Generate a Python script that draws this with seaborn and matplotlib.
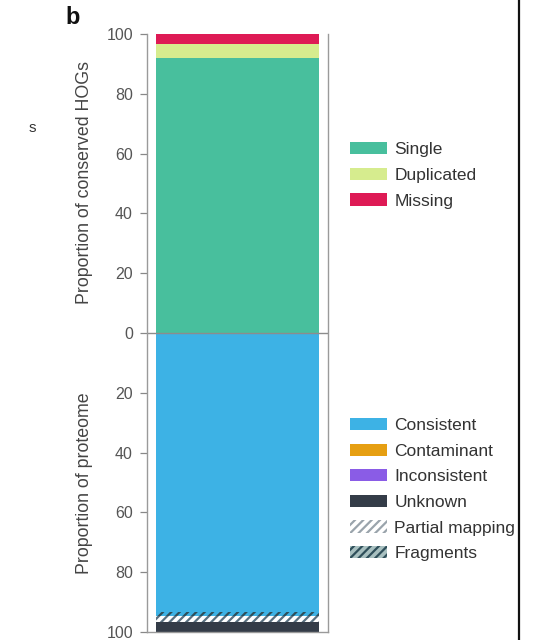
import matplotlib
matplotlib.use("Agg")
import matplotlib.pyplot as plt
import matplotlib.patches as mpatches
from matplotlib.lines import Line2D
import seaborn as sns

# Conserved HOG completeness (percent, stacked upward from 0)
hog_categories = ["Single", "Duplicated", "Missing"]
hog_values = [91.9, 4.8, 3.3]
hog_colors = ["#48BF9D", "#D6EC8E", "#DE1A55"]

# Proteome consistency (percent, stacked downward from 0)
prot_categories = ["Consistent", "Contaminant", "Inconsistent", "Fragments", "Partial mapping", "Unknown"]
prot_values = [93.2, 0.1, 0.1, 1.3, 2.0, 3.3]
prot_colors = ["#3DB2E5", "#E69F12", "#8A5CE6", "#3DB2E5", "#FFFFFF", "#343C48"]
prot_hatches = [None, None, None, "////", "////", None]

tick_values = [0, 20, 40, 60, 80, 100]

sns.set_theme(style="white")
plt.rcParams["font.family"] = ["Liberation Sans", "DejaVu Sans"]
plt.rcParams["hatch.linewidth"] = 1.6

fig = plt.figure(figsize=(5.36, 6.4), dpi=100)
ax = fig.add_axes([0.274, 0.0125, 0.338, 0.9345])

bar_x = ["genome"]
bottom = 0.0
for name, val, col in zip(hog_categories, hog_values, hog_colors):
    sns.barplot(x=bar_x, y=[val], bottom=bottom, color=col, width=0.9,
                saturation=1, ax=ax, linewidth=0, label=name)
    bottom += val

bottom = 0.0
for name, val, col, h in zip(prot_categories, prot_values, prot_colors, prot_hatches):
    kws = dict(linewidth=0)
    if h is not None:
        kws["hatch"] = h
        kws["edgecolor"] = "#2F4F5A" if name == "Fragments" else "#5A7080"
    sns.barplot(x=bar_x, y=[-val], bottom=bottom, color=col, width=0.9,
                saturation=1, ax=ax, label=name, **kws)
    bottom -= val

ax.axhline(0, color="#8C8C8C", lw=1.0)
ax.set_xlim(-0.5, 0.5)
ax.set_ylim(-100, 100)
ax.set_xticks([])
ax.set_xlabel("")
ax.set_yticks([-v for v in tick_values[:0:-1]] + tick_values)
ax.set_yticklabels([str(v) for v in tick_values[:0:-1]] + [str(v) for v in tick_values])
ax.tick_params(axis="y", length=5, width=0.9, color="#888888", labelsize=11.5,
               labelcolor="#555555", left=True, pad=5)
for side in ["left", "right", "bottom"]:
    ax.spines[side].set_color("#9A9A9A")
    ax.spines[side].set_linewidth(1.0)
    ax.spines[side].set_visible(True)
ax.spines["top"].set_visible(False)
if ax.get_legend() is not None:
    ax.get_legend().remove()

fig.text(0.158, 0.715, "Proportion of conserved HOGs", rotation=90, ha="center",
         va="center", fontsize=12.8, color="#444444")
fig.text(0.158, 0.245, "Proportion of proteome", rotation=90, ha="center",
         va="center", fontsize=12.8, color="#444444")
fig.text(0.135, 0.972, "b", fontsize=17, fontweight="bold", ha="center",
         va="center", color="#111111")
fig.text(0.06, 0.80, "s", fontsize=11, ha="center", va="center", color="#333333")

legend_kws = dict(loc="upper left", frameon=False, fontsize=12.5,
                  handlelength=2.1, handleheight=0.7, handletextpad=0.45,
                  labelspacing=0.6, labelcolor="#333333")

top_handles = [mpatches.Patch(facecolor=c, edgecolor="none", label=n)
               for n, c in zip(hog_categories, hog_colors)]
fig.legend(handles=top_handles, bbox_to_anchor=(0.624, 0.802), **legend_kws)

legend_order = ["Consistent", "Contaminant", "Inconsistent", "Unknown", "Partial mapping", "Fragments"]
legend_style = {
    "Consistent": dict(facecolor="#3DB2E5", edgecolor="none"),
    "Contaminant": dict(facecolor="#E69F12", edgecolor="none"),
    "Inconsistent": dict(facecolor="#8A5CE6", edgecolor="none"),
    "Unknown": dict(facecolor="#343C48", edgecolor="none"),
    "Partial mapping": dict(facecolor="white", edgecolor="#9AA4AC", hatch="////", linewidth=0),
    "Fragments": dict(facecolor="#A8C0C0", edgecolor="#2F4F5A", hatch="////", linewidth=0),
}
bot_handles = [mpatches.Patch(label=n, **legend_style[n]) for n in legend_order]
fig.legend(handles=bot_handles, bbox_to_anchor=(0.624, 0.371), **legend_kws)

fig.add_artist(Line2D([0.968, 0.968], [0, 1], transform=fig.transFigure,
                      color="#111111", lw=1.6))

fig.savefig("out.png", dpi=100)
